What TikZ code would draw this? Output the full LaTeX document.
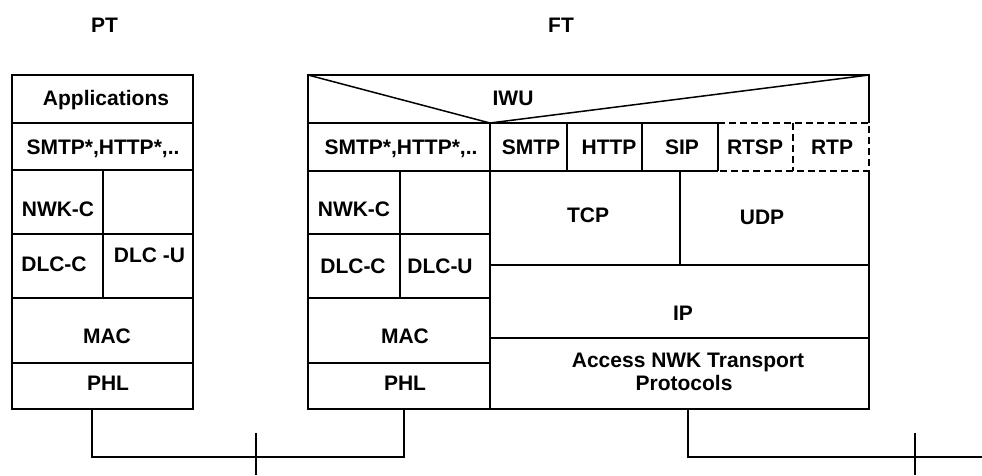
\documentclass[tikz,border=0pt]{standalone}
\usepackage{fontspec}
\setmainfont{Liberation Sans}
\begin{document}
\begin{tikzpicture}[x=1pt,y=-1pt,line width=1.5pt,
  lbl/.style={anchor=base,font=\fontsize{21}{23}\selectfont\bfseries,inner sep=0pt},
  dsh/.style={dash pattern=on 7pt off 4pt,line width=2pt},
  wire/.style={line width=1.5pt}]
\useasboundingbox (0,0) rectangle (982,475);
% ---------- PT stack ----------
\draw (12,75) rectangle (193,409);
\draw (12,123) -- (193,123);
\draw (12,170) -- (193,170);
\draw (12,234) -- (193,234);
\draw (103,170) -- (103,298);
\draw (12,298) -- (193,298);
\draw (12,363) -- (193,363);
% ---------- FT stack ----------
\draw (869,123) -- (869,75) -- (308,75) -- (308,409) -- (869,409) -- (869,171);
\draw (308,75) -- (490,123) -- (869,75);
\draw (308,123) -- (718,123);
\draw[dsh] (718,123) -- (869,123) -- (869,171) -- (718,171);
\draw[dsh] (793,123) -- (793,171);
\draw (308,171) -- (718,171);
\draw (490,123) -- (490,409);
\draw (567,123) -- (567,171);
\draw (642,123) -- (642,171);
\draw (718,123) -- (718,171);
\draw (400,171) -- (400,298);
\draw (308,234) -- (490,234);
\draw (308,298) -- (490,298);
\draw (308,363) -- (490,363);
\draw (680,171) -- (680,265);
\draw (490,265) -- (869,265);
\draw (490,338) -- (869,338);
% ---------- labels ----------
\node[lbl] (pt) at (104.5,32) {PT};
\node[lbl] (ft) at (561,32) {FT};
\node[lbl] (app) at (106,105.5) {Applications};
\node[lbl] (ptsmtp) at (103,154) {SMTP*,HTTP*,..};
\node[lbl] (ptnwk) at (58,216) {NWK-C};
\node[lbl] (ptdlcc) at (54,271) {DLC-C};
\node[lbl] (ptdlcu) at (149.5,262) {DLC -U};
\node[lbl] (ptmac) at (107,343) {MAC};
\node[lbl] (ptphl) at (108,390) {PHL};
\node[lbl] (iwu) at (513,105) {IWU};
\node[lbl] (ftsmtp) at (401,154) {SMTP*,HTTP*,..};
\node[lbl] (smtp) at (531,154.5) {SMTP};
\node[lbl] (http) at (609,154.5) {HTTP};
\node[lbl] (sip) at (682,154.5) {SIP};
\node[lbl] (rtsp) at (755,154.5) {RTSP};
\node[lbl] (rtp) at (832,154.5) {RTP};
\node[lbl] (ftnwk) at (354,216) {NWK-C};
\node[lbl] (ftdlcc) at (353,273) {DLC-C};
\node[lbl] (ftdlcu) at (440,273) {DLC-U};
\node[lbl] (tcp) at (588,222) {TCP};
\node[lbl] (udp) at (762,224) {UDP};
\node[lbl] (ip) at (683,320) {IP};
\node[lbl] (acc1) at (688,367) {Access NWK Transport};
\node[lbl] (acc2) at (684,390) {Protocols};
\node[lbl] (ftmac) at (405,343) {MAC};
\node[lbl] (ftphl) at (405,390) {PHL};
% ---------- connectors ----------
\coordinate (ptout) at (92,409);
\coordinate (ftout) at (404,409);
\coordinate (anout) at (688,409);
\coordinate (bus1) at (92,457);
\coordinate (bus2) at (404,457);
\coordinate (bus3) at (688,457);
\coordinate (bus4) at (982,457);
\coordinate (tick1a) at (256,433);
\coordinate (tick1b) at (256,475);
\coordinate (tick2a) at (915,433);
\coordinate (tick2b) at (915,475);
\draw[wire] (ptout) -- (bus1) -- (bus2) -- (ftout);
\draw[wire] (tick1a) -- (tick1b);
\draw[wire] (anout) -- (bus3) -- (bus4);
\draw[wire] (tick2a) -- (tick2b);
\end{tikzpicture}
\end{document}
